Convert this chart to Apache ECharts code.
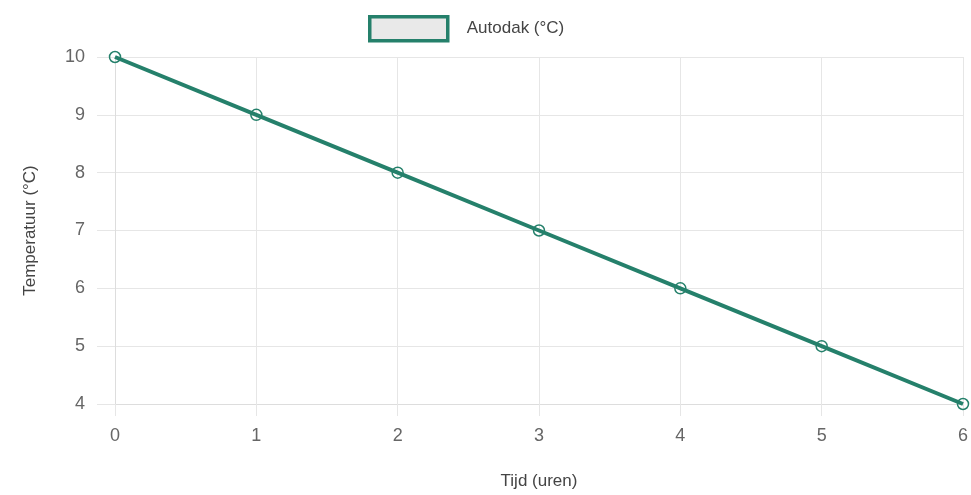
<!DOCTYPE html>
<html>
<head>
<meta charset="utf-8">
<script src="https://cdn.jsdelivr.net/npm/echarts@6/dist/echarts.min.js"></script>
<style>html,body{margin:0;padding:0;background:#fff;}#c{width:971px;height:495px;}</style>
</head>
<body>
<div id="c"></div>
<script>
const hours = [0, 1, 2, 3, 4, 5, 6];
const temps = [10, 9, 8, 7, 6, 5, 4];
const seriesName = 'Autodak (°C)';
const xTitle = 'Tijd (uren)';
const yTitle = 'Temperatuur (°C)';

const chart = echarts.init(document.getElementById('c'), null, {renderer: 'canvas'});
const font = 'Liberation Sans, Arial, Helvetica, sans-serif';
const color = '#25806b';
chart.setOption({
  animation: false,
  backgroundColor: '#fff',
  textStyle: {fontFamily: font},
  legend: {
    top: 10,
    left: 363,
    itemWidth: 78,
    itemHeight: 24,
    itemGap: 10,
    icon: 'rect',
    textStyle: {fontSize: 17, color: '#444', fontFamily: font, padding: [0, 0, 0, 14]},
    data: [{name: seriesName, itemStyle: {color: '#e9e9e9', borderColor: color, borderWidth: 3.5}}]
  },
  grid: {left: 115, right: 8, top: 57, bottom: 85, containLabel: false},
  xAxis: {
    type: 'value', min: 0, max: 6, interval: 1,
    name: xTitle, nameLocation: 'middle', nameGap: 69,
    nameTextStyle: {fontSize: 17, color: '#444', fontFamily: font},
    axisLine: {show: true, lineStyle: {color: '#ddd'}},
    axisTick: {show: true, length: 12, lineStyle: {color: '#e6e6e6'}},
    axisLabel: {fontSize: 18, color: '#666', margin: 23, fontFamily: font},
    splitLine: {show: true, lineStyle: {color: '#e6e6e6'}}
  },
  yAxis: {
    type: 'value', min: 4, max: 10, interval: 1,
    name: yTitle, nameLocation: 'middle', nameGap: 76, nameRotate: 90,
    nameTextStyle: {fontSize: 17, color: '#444', fontFamily: font},
    axisLine: {show: true, lineStyle: {color: '#ddd'}},
    axisTick: {show: true, length: 18, lineStyle: {color: '#e6e6e6'}},
    axisLabel: {fontSize: 18, color: '#666', margin: 30, fontFamily: font},
    splitLine: {show: true, lineStyle: {color: '#e6e6e6'}}
  },
  series: [{
    name: seriesName,
    type: 'line',
    data: hours.map((h, i) => [h, temps[i]]),
    symbol: 'circle',
    symbolSize: 11,
    showAllSymbol: true,
    lineStyle: {color: color, width: 4},
    itemStyle: {color: 'rgba(0,0,0,0)', borderColor: color, borderWidth: 1.5},
    clip: false
  }]
});
</script>
</body>
</html>
